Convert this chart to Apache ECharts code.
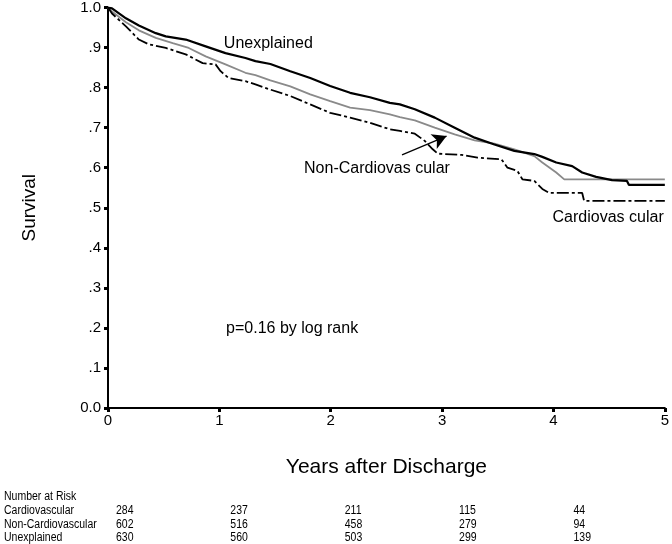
<!DOCTYPE html>
<html>
<head>
<meta charset="utf-8">
<script src="https://cdn.jsdelivr.net/npm/echarts@6/dist/echarts.min.js"></script>
<style>
html,body{margin:0;padding:0;background:#fff;}
#chart{width:672px;height:544px;}
</style>
</head>
<body>
<div id="chart"></div>
<script>
// ---- Data ----
var xTicks = [0, 1, 2, 3, 4, 5];
var yTicks = [0, 0.1, 0.2, 0.3, 0.4, 0.5, 0.6, 0.7, 0.8, 0.9, 1.0];

var unexplainedT = [0, 0.036, 0.161, 0.277, 0.429, 0.519, 0.698, 0.877, 1.055, 1.234, 1.324, 1.458, 1.637, 1.816, 1.995, 2.174, 2.352, 2.531, 2.621, 2.755, 2.934, 3.113, 3.292, 3.470, 3.649, 3.828, 3.900, 4.025, 4.168, 4.258, 4.383, 4.526, 4.660, 4.678, 5.0];
var unexplainedS = [1.0, 0.998, 0.973, 0.955, 0.936, 0.928, 0.920, 0.903, 0.886, 0.874, 0.866, 0.859, 0.841, 0.824, 0.804, 0.787, 0.776, 0.762, 0.758, 0.746, 0.725, 0.700, 0.675, 0.658, 0.642, 0.634, 0.627, 0.613, 0.604, 0.588, 0.577, 0.569, 0.567, 0.557, 0.557];

var nonCardioT = [0, 0.036, 0.161, 0.277, 0.429, 0.581, 0.725, 0.877, 1.055, 1.234, 1.324, 1.458, 1.637, 1.816, 1.995, 2.174, 2.352, 2.531, 2.621, 2.755, 2.934, 3.113, 3.292, 3.470, 3.649, 3.828, 3.900, 4.025, 4.097, 5.0];
var nonCardioS = [1.0, 0.990, 0.963, 0.943, 0.924, 0.911, 0.899, 0.878, 0.858, 0.837, 0.831, 0.818, 0.803, 0.783, 0.766, 0.750, 0.744, 0.733, 0.726, 0.718, 0.700, 0.683, 0.668, 0.660, 0.646, 0.629, 0.613, 0.588, 0.571, 0.571];

var cardioT = [0, 0.036, 0.161, 0.277, 0.367, 0.519, 0.698, 0.850, 0.966, 1.011, 1.082, 1.234, 1.324, 1.458, 1.637, 1.816, 1.995, 2.174, 2.352, 2.531, 2.621, 2.755, 2.844, 2.916, 2.961, 3.175, 3.318, 3.533, 3.587, 3.676, 3.721, 3.828, 3.900, 3.962, 4.258, 4.275, 5.0];
var cardioS = [1.0, 0.985, 0.953, 0.920, 0.908, 0.899, 0.883, 0.861, 0.858, 0.841, 0.824, 0.816, 0.808, 0.795, 0.779, 0.758, 0.737, 0.725, 0.712, 0.696, 0.692, 0.685, 0.667, 0.646, 0.635, 0.632, 0.625, 0.621, 0.600, 0.592, 0.571, 0.567, 0.547, 0.537, 0.537, 0.517, 0.517];

var riskTitle = 'Number at Risk';
var riskGroups = ['Cardiovascular', 'Non-Cardiovascular', 'Unexplained'];
var riskTimes = [0, 1, 2, 3, 4];
var cardioRisk = [284, 237, 211, 115, 44];
var nonCardioRisk = [602, 516, 458, 279, 94];
var unexplainedRisk = [630, 560, 503, 299, 139];

// ---- Chart ----
function zip(t, s) { return t.map(function (v, i) { return [v, s[i]]; }); }
var font = 'Liberation Sans, Arial, sans-serif';

var chart = echarts.init(document.getElementById('chart'), null, { renderer: 'canvas' });

var option = {
  animation: false,
  backgroundColor: '#fff',
  grid: { left: 108, right: 5, top: 6, bottom: 136, containLabel: false },
  xAxis: {
    type: 'value', min: 0, max: 5, interval: 1,
    name: 'Years after Discharge', nameLocation: 'middle', nameGap: 49,
    nameTextStyle: { fontFamily: font, fontSize: 21, color: '#000' },
    axisLine: { show: true, onZero: false, lineStyle: { color: '#000', width: 2 } },
    axisTick: { show: true, length: 4, lineStyle: { color: '#000', width: 3 } },
    axisLabel: { fontFamily: font, fontSize: 15, color: '#000', margin: 5 },
    splitLine: { show: false }
  },
  yAxis: {
    type: 'value', min: 0, max: 1, interval: 0.1,
    name: 'Survival', nameLocation: 'middle', nameGap: 69, nameRotate: 90,
    nameTextStyle: { fontFamily: font, fontSize: 19, color: '#000' },
    axisLine: { show: true, onZero: false, lineStyle: { color: '#000', width: 2 } },
    axisTick: { show: true, length: 4, lineStyle: { color: '#000', width: 3 } },
    axisLabel: {
      fontFamily: font, fontSize: 15, color: '#000', margin: 7,
      formatter: function (v) {
        var r = Math.round(v * 10);
        if (r === 0) return '0.0';
        if (r === 10) return '1.0';
        return '.' + r;
      }
    },
    splitLine: { show: false }
  },
  series: [
    {
      name: 'Non-Cardiovascular', type: 'line', symbol: 'none',
      data: zip(nonCardioT, nonCardioS),
      lineStyle: { color: '#8a8a8a', width: 1.8 },
      z: 2
    },
    {
      name: 'Cardiovascular', type: 'line', symbol: 'none',
      data: zip(cardioT, cardioS),
      lineStyle: { color: '#000', width: 1.8, type: [12, 3, 3, 3] },
      z: 3
    },
    {
      name: 'Unexplained', type: 'line', symbol: 'none',
      data: zip(unexplainedT, unexplainedS),
      lineStyle: { color: '#000', width: 2.2 },
      z: 4,
      markPoint: {
        symbol: 'circle', symbolSize: 0, silent: true,
        label: { show: true, fontFamily: font, fontSize: 16, color: '#000', position: 'inside' },
        data: [
          { coord: [1.04, 0.91], label: { formatter: 'Unexplained', align: 'left', verticalAlign: 'middle' } },
          { coord: [3.07, 0.597], label: { formatter: 'Non-Cardiovas cular', align: 'right', verticalAlign: 'middle' } },
          { coord: [4.99, 0.475], label: { formatter: 'Cardiovas cular', align: 'right', verticalAlign: 'middle' } },
          { coord: [1.06, 0.199], label: { formatter: 'p=0.16 by log rank', align: 'left', verticalAlign: 'middle' } }
        ]
      },
      markLine: {
        silent: true, symbol: ['none', 'arrow'], symbolSize: [12, 14],
        lineStyle: { color: '#000', width: 1.3, type: 'solid' },
        label: { show: false },
        data: [[{ coord: [2.64, 0.632] }, { coord: [3.04, 0.679] }]]
      }
    }
  ]
};
chart.setOption(option);

// Number-at-risk table placed through the x scale
var g = [];
var rowY = [497, 511, 525, 538];
var sx = 0.84;
function txt(x, y, s) {
  return { type: 'text', x: x, y: y, scaleX: sx, originX: 0, originY: 0,
           style: { text: s, font: '12.5px ' + font, fill: '#000', verticalAlign: 'middle' } };
}
g.push(txt(4, rowY[0], riskTitle));
var rows = [cardioRisk, nonCardioRisk, unexplainedRisk];
rows.forEach(function (vals, r) {
  g.push(txt(4, rowY[r + 1], riskGroups[r]));
  vals.forEach(function (v, i) {
    var px = chart.convertToPixel({ xAxisIndex: 0 }, riskTimes[i]);
    g.push(txt(px + 8 + i * 3, rowY[r + 1], String(v)));
  });
});
chart.setOption({ graphic: g });
</script>
</body>
</html>
